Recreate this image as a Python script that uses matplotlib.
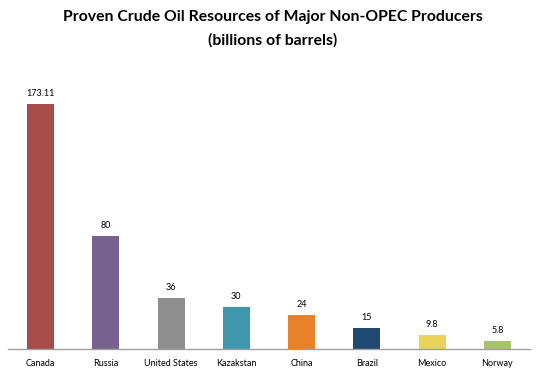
import matplotlib.pyplot as plt

countries = ['Canada', 'Russia', 'United States', 'Kazakstan', 'China', 'Brazil', 'Mexico', 'Norway']
reserves = [173.11, 80, 36, 30, 24, 15, 9.8, 5.8]
labels = ['173.11', '80', '36', '30', '24', '15', '9.8', '5.8']
colors = ['#A84C4A', '#77628F', '#8F8F8F', '#4198AE', '#E8822A', '#214A72', '#EBD35A', '#A9C26F']

plt.rcParams['font.family'] = ['Lato', 'DejaVu Sans']

fig = plt.figure(figsize=(5.46, 3.74), dpi=100)
ax = fig.add_axes([8 / 546, 25 / 374, 522 / 546, 269 / 374])

x = range(len(countries))
ax.bar(x, reserves, width=0.41, color=colors, zorder=2)
for i, (v, lab) in enumerate(zip(reserves, labels)):
    ax.text(i, v + 4, lab, ha='center', va='bottom', fontsize=6.5)

ax.set_xlim(-0.5, len(countries) - 0.5)
ax.set_ylim(0, 190)
ax.set_xticks(list(x))
ax.set_xticklabels(countries, fontsize=6.5)
ax.tick_params(axis='x', length=0, pad=7)
ax.set_yticks([])
for s in ['top', 'right', 'left']:
    ax.spines[s].set_visible(False)
ax.spines['bottom'].set_color('#A0A0A0')
ax.spines['bottom'].set_linewidth(1)

fig.text(0.5, 1 - 17 / 374, 'Proven Crude Oil Resources of Major Non-OPEC Producers',
         ha='center', va='center', fontsize=11.3, fontweight='bold')
fig.text(0.5, 1 - 40 / 374, '(billions of barrels)',
         ha='center', va='center', fontsize=11.3, fontweight='bold')

fig.savefig('out.png', dpi=100)
